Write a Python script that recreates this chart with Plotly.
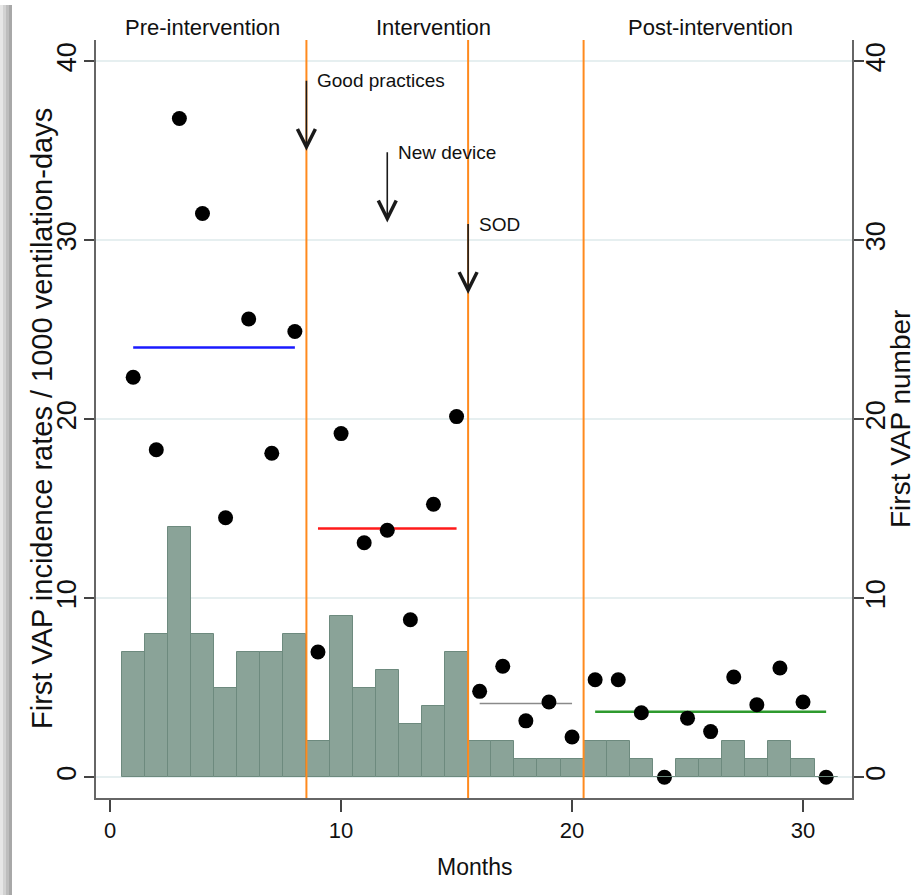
import plotly.graph_objects as go

# Monthly surveillance data
months = list(range(1, 32))
vap_number = [7, 8, 14, 8, 5, 7, 7, 8, 2, 9, 5, 6, 3, 4, 7, 2, 2, 1, 1, 1,
              2, 2, 1, 0, 1, 1, 2, 1, 2, 1, 0]
incidence_rate = [22.35, 18.3, 36.8, 31.5, 14.5, 25.6, 18.1, 24.9, 7.0, 19.2,
                  13.1, 13.8, 8.8, 15.25, 20.15, 4.8, 6.2, 3.15, 4.2, 2.25,
                  5.45, 5.45, 3.6, 0.0, 3.3, 2.55, 5.6, 4.05, 6.1, 4.2, 0.0]

# Period boundaries (months) and the month span each period mean covers
period_breaks = [8.5, 15.5, 20.5]
period_spans = [(1, 8), (9, 15), (16, 20), (21, 31)]
period_colors = ["#1a1aff", "#ff1a1a", "#8a8a8a", "#2e9a2e"]
period_widths = [2.5, 2.5, 1.6, 2.5]

period_labels = ["Pre-intervention", "Intervention", "Post-intervention"]
period_label_x = [4, 14, 26]

# Interventions: (label, month, arrow start, arrow end)
events = [("Good practices", 8.5, 39, 35),
          ("New device", 12, 35, 31),
          ("SOD", 15.5, 31, 27)]

yticks = [0, 10, 20, 30, 40]
xticks = [0, 10, 20, 30]

FONT = "Liberation Sans, Arial, Helvetica, sans-serif"
INK = "#111"

# geometry of the plotting area (px)
W, H = 916, 895
ML, MR, MT, MB = 96, 64, 40, 97
PW, PH = W - ML - MR, H - MT - MB
XR = [-0.61, 32.12]
YR = [-1.16, 41.19]


def px_x(p):
    return (p - ML) / PW


def px_y(p):
    return (MT + PH - p) / PH


fig = go.Figure()

fig.add_trace(go.Bar(
    x=months, y=vap_number, width=1, yaxis="y2",
    marker=dict(color="#8aa398", line=dict(color="#6d8a7e", width=1)),
    showlegend=False,
))

for (a, b), col, lw in zip(period_spans, period_colors, period_widths):
    vals = [r for m, r in zip(months, incidence_rate) if a <= m <= b]
    mean = sum(vals) / len(vals)
    fig.add_trace(go.Scatter(
        x=[a, b], y=[mean, mean], mode="lines",
        line=dict(color=col, width=lw), showlegend=False,
    ))

fig.add_trace(go.Scatter(
    x=months, y=incidence_rate, mode="markers",
    marker=dict(color="black", size=15), showlegend=False,
))

shapes = []
for xb in period_breaks:
    shapes.append(dict(type="line", xref="x", yref="paper", x0=xb, x1=xb,
                       y0=0, y1=1, line=dict(color="#ff8a1e", width=2),
                       layer="above"))

# soft grey edge on the left of the page
edge = [("#e6e6e6", 0, 3), ("#d2d2d2", 3, 6), ("#bdbdbd", 6, 9), ("#a8a8a8", 9, 12)]
for col, p0, p1 in edge:
    shapes.append(dict(type="rect", xref="paper", yref="paper",
                       x0=px_x(p0), x1=px_x(p1), y0=px_y(H), y1=px_y(5),
                       fillcolor=col, line=dict(width=0), layer="above"))

annotations = []
for lab, xm in zip(period_labels, period_label_x):
    annotations.append(dict(x=xm, y=px_y(27), xref="x", yref="paper",
                            text=lab, showarrow=False, xanchor="center",
                            yanchor="middle",
                            font=dict(family=FONT, size=22, color=INK)))

for lab, xm, y0, y1 in events:
    annotations.append(dict(x=xm, y=y1, ax=xm, ay=y0, xref="x", yref="y",
                            axref="x", ayref="y", text="", showarrow=True,
                            arrowhead=5, arrowsize=2.2, arrowwidth=1.6,
                            arrowcolor="#1a1a1a"))
    annotations.append(dict(x=xm + 0.38, y=y0 - 0.1, xref="x", yref="y",
                            text=lab, showarrow=False, xanchor="left",
                            yanchor="middle",
                            font=dict(family=FONT, size=19, color=INK)))

# axis titles
annotations.append(dict(x=px_x(42), y=0.5, xref="paper", yref="paper",
                        text="First VAP incidence rates / 1000 ventilation-days",
                        textangle=-90, showarrow=False, xanchor="center",
                        yanchor="middle", font=dict(family=FONT, size=29, color=INK)))
annotations.append(dict(x=px_x(900), y=0.5, xref="paper", yref="paper",
                        text="First VAP number", textangle=-90, showarrow=False,
                        xanchor="center", yanchor="middle",
                        font=dict(family=FONT, size=28, color=INK)))
annotations.append(dict(x=0.5, y=px_y(867), xref="paper", yref="paper",
                        text="Months", showarrow=False, xanchor="center",
                        yanchor="middle", font=dict(family=FONT, size=23, color=INK)))

axis_line = dict(showline=True, linecolor="#666", linewidth=2, automargin=False)

fig.update_layout(
    width=W, height=H,
    margin=dict(l=ML, r=MR, t=MT, b=MB, autoexpand=False),
    paper_bgcolor="white", plot_bgcolor="white",
    bargap=0, showlegend=False,
    shapes=shapes, annotations=annotations,
    xaxis=dict(range=XR, tickvals=xticks, ticks="outside", ticklen=12,
               tickwidth=1.5, tickcolor="#444", showgrid=False, zeroline=False,
               tickfont=dict(family=FONT, size=22, color=INK),
               **axis_line),
    yaxis=dict(range=YR, tickvals=yticks, ticks="outside", ticklen=10,
               tickwidth=1.5, tickcolor="#444", tickangle=-90,
               ticklabelstandoff=-3,
               showgrid=True, gridcolor="#e6eff0", gridwidth=2, zeroline=False,
               tickfont=dict(family=FONT, size=27, color=INK),
               **axis_line),
    yaxis2=dict(range=YR, tickvals=yticks, ticks="outside", ticklen=10,
                tickwidth=1.5, tickcolor="#444", tickangle=-90,
                ticklabelstandoff=-11,
                overlaying="y", side="right", showgrid=False, zeroline=False,
                tickfont=dict(family=FONT, size=27, color=INK),
                **axis_line),
)

fig.write_html("out.html")
